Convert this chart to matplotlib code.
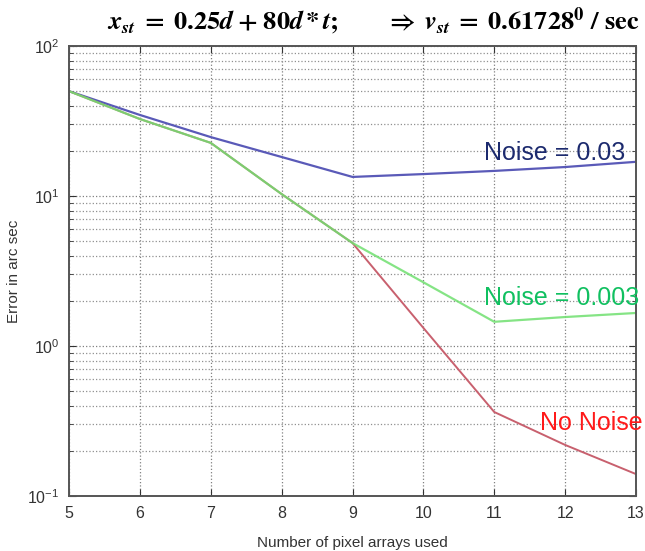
import numpy as np
import matplotlib
matplotlib.use('Agg')
import matplotlib.pyplot as plt
from matplotlib import ticker as mticker

plt.rcParams['font.family'] = ['Liberation Sans', 'DejaVu Sans']
plt.rcParams['mathtext.fontset'] = 'stix'

# data
n_arrays = [5, 6, 7, 8, 9, 10, 11, 12, 13]
err_noise_003 = [50, 34.7, 24.7, 18.2, 13.4, 14.0, 14.7, 15.6, 16.9]
err_noise_0003 = [50, 32.6, 22.6, 10.3, 4.86, 2.66, 1.45, 1.56, 1.66]
err_no_noise = [50, 32.6, 22.6, 10.3, 4.86, 1.32, 0.363, 0.219, 0.14]

lbl_blue = 'Noise = 0.03'
lbl_green = 'Noise = 0.003'
lbl_red = 'No Noise'

fig = plt.figure(figsize=(6.45, 5.51), dpi=100, facecolor='white')
ax = fig.add_axes([69/645, 1-496/551, (636-69)/645, (496-46)/551])

ax.plot(n_arrays, err_noise_003, color='#5a5ab8', lw=1.6)
ax.plot(n_arrays, err_no_noise, color='#c8606e', lw=1.4)
ax.plot(n_arrays, err_noise_0003, color='#70e070', lw=1.6, alpha=0.85)

ax.set_yscale('log')
ax.set_xlim(5, 13)
ax.set_ylim(0.1, 100)
ax.xaxis.set_major_locator(mticker.MultipleLocator(1))
ax.yaxis.set_major_locator(mticker.LogLocator(base=10, numticks=10))
ax.yaxis.set_minor_locator(mticker.LogLocator(base=10, subs=np.arange(2, 10), numticks=20))
ax.yaxis.set_minor_formatter(mticker.NullFormatter())

ax.grid(True, which='major', linestyle=':', color='#808080', lw=0.9)
ax.grid(True, which='minor', axis='y', linestyle=':', color='#909090', lw=0.9)

ax.tick_params(which='both', direction='in', top=True, right=True, labelsize=11.5, colors='#333333')
ax.tick_params(which='major', length=5, pad=7)
ax.tick_params(which='minor', length=3)
for s in ax.spines.values():
    s.set_color('#555555')
    s.set_linewidth(1.4)

ax.set_xlabel('Number of pixel arrays used', fontsize=11, color='#333333', labelpad=11)
ax.set_ylabel('Error in arc sec', fontsize=11, color='#333333', labelpad=4)

ax.text(10.85, 19.4, lbl_blue, color='#1c2a6e', fontsize=18, ha='left', va='center')
ax.text(10.85, 2.09, lbl_green, color='#10c060', fontsize=18, ha='left', va='center', clip_on=False)
ax.text(11.64, 0.307, lbl_red, color='#ff1a1a', fontsize=18, ha='left', va='center', clip_on=False)

title = (r'$\mathbfit{x}_{\mathbfit{st}}\;\mathbf{=}\;\mathbf{0.25}\mathbfit{d}\;\mathbf{+}\;\mathbf{80}\mathbfit{d}\,\mathbf{*}\,\mathbfit{t}\mathbf{;}'
         r'\quad\quad\;\mathbf{\Rightarrow}\;\mathbfit{v}_{\mathbfit{st}}\;\mathbf{=}\;\mathbf{0.61728^{0}\ /\ sec}$')
fig.text(373/645, 1-29/551, title, fontsize=19, ha='center', va='baseline', color='black')

fig.savefig('out.png', dpi=100, facecolor='white')
